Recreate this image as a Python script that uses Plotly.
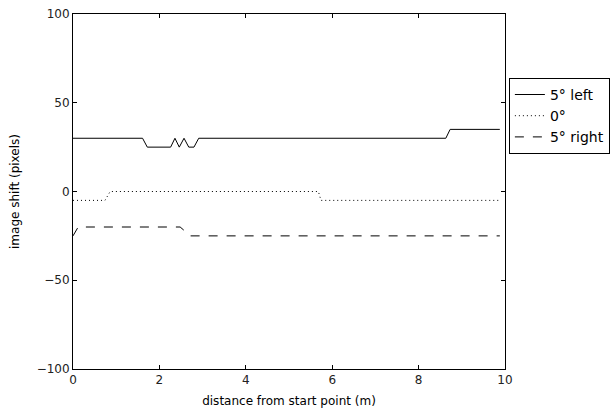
import plotly.graph_objects as go

left_x = [0, 1.61, 1.72, 2.26, 2.36, 2.46, 2.57, 2.68, 2.80, 2.91, 8.63, 8.73, 9.88]
left_y = [30, 30, 25, 25, 30, 25, 30, 25, 25, 30, 30, 35, 35]

zero_x = [0, 0.74, 0.86, 5.68, 5.74, 9.88]
zero_y = [-5, -5, 0, 0, -5, -5]

right_x = [0, 0.12, 2.48, 2.72, 9.88]
right_y = [-25, -20, -20, -25, -25]

names = ["5° left", "0°", "5° right"]
dashes = ["solid", "1px,3px", "dash"]

fig = go.Figure()
for xs, ys, nm, ds in [(left_x, left_y, names[0], dashes[0]),
                       (zero_x, zero_y, names[1], dashes[1]),
                       (right_x, right_y, names[2], dashes[2])]:
    fig.add_trace(go.Scatter(x=xs, y=ys, mode="lines", name=nm,
                             line=dict(color="black", width=1, dash=ds)))

axis_common = dict(showgrid=False, zeroline=False, showline=True, linecolor="black",
                   linewidth=1, mirror="ticks", ticks="inside", ticklen=4,
                   tickcolor="black", tickfont=dict(size=12, color="#222"))

fig.update_layout(
    width=612, height=412,
    margin=dict(l=73, r=107, t=14, b=43, autoexpand=False),
    paper_bgcolor="white", plot_bgcolor="white",
    font=dict(family="DejaVu Sans", size=12, color="black"),
    xaxis=dict(range=[0, 10], tickvals=[0, 2, 4, 6, 8, 10],
               title=dict(text="distance from start point (m)", font=dict(size=12), standoff=10),
               **axis_common),
    yaxis=dict(range=[-100, 100], tickvals=[-100, -50, 0, 50, 100],
               title=dict(text="image shift (pixels)", font=dict(size=12), standoff=14),
               **axis_common),
    legend=dict(x=1.009, y=0.82, xanchor="left", yanchor="top",
                bordercolor="black", borderwidth=1, font=dict(size=14),
                bgcolor="white", tracegroupgap=0, itemwidth=30),
    showlegend=True,
)

fig.write_html("out.html")
